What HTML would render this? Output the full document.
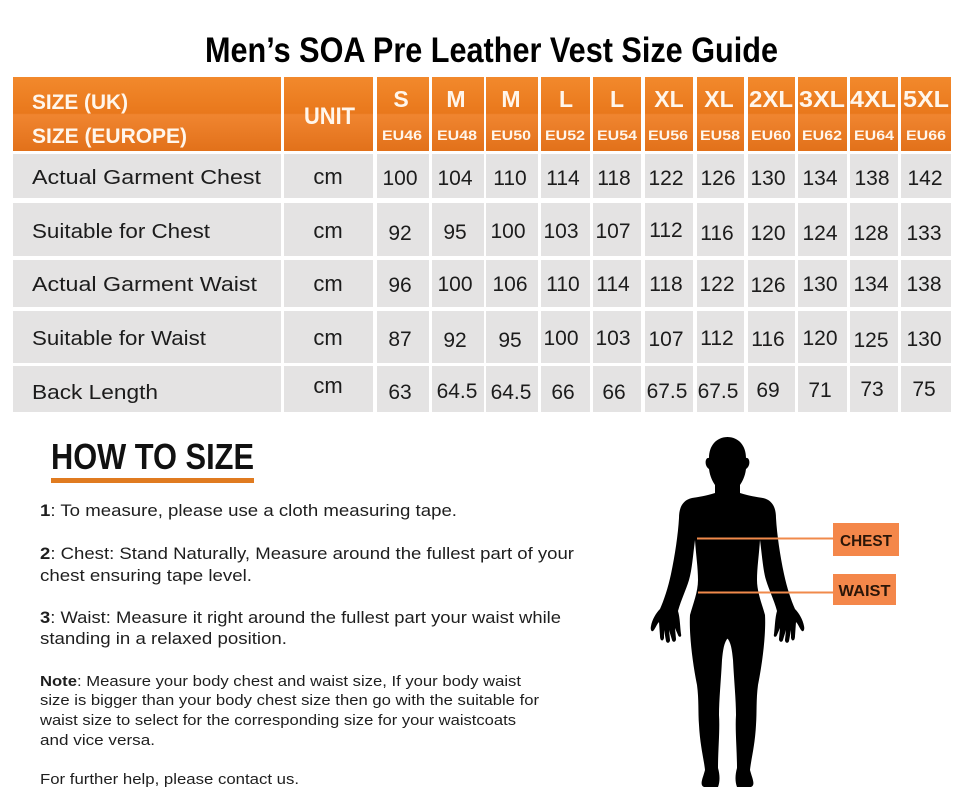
<!DOCTYPE html>
<html><head><meta charset="utf-8"><style>
html,body{margin:0;padding:0;background:#fff;}
svg{display:block;}
text{font-family:"Liberation Sans",sans-serif;}
</style></head><body>
<svg width="960" height="807" viewBox="0 0 960 807" xmlns="http://www.w3.org/2000/svg">
<defs>
<linearGradient id="hg" gradientUnits="userSpaceOnUse" x1="0" y1="77" x2="0" y2="151">
<stop offset="0" stop-color="#f2892c"/>
<stop offset="0.49" stop-color="#e9781c"/>
<stop offset="0.51" stop-color="#f08530"/>
<stop offset="1" stop-color="#e2711a"/>
</linearGradient>
</defs>
<rect width="960" height="807" fill="#fff"/>
<text x="205" y="62" font-size="35" font-weight="bold" fill="#000" textLength="573" lengthAdjust="spacingAndGlyphs">Men’s SOA Pre Leather Vest Size Guide</text>

<g fill="url(#hg)">
<rect x="13" y="77" width="268" height="74"/>
<rect x="284" y="77" width="89" height="74"/>
<rect x="377" y="77" width="52" height="74"/>
<rect x="432" y="77" width="52" height="74"/>
<rect x="486" y="77" width="52" height="74"/>
<rect x="541" y="77" width="49" height="74"/>
<rect x="593" y="77" width="48" height="74"/>
<rect x="645" y="77" width="48" height="74"/>
<rect x="697" y="77" width="47" height="74"/>
<rect x="748" y="77" width="47" height="74"/>
<rect x="798" y="77" width="49" height="74"/>
<rect x="850" y="77" width="48" height="74"/>
<rect x="901" y="77" width="50" height="74"/>
</g>
<g fill="#fff6ec" font-weight="bold">
<text x="32" y="109" font-size="21" textLength="96" lengthAdjust="spacingAndGlyphs">SIZE (UK)</text>
<text x="32" y="143" font-size="21" textLength="155" lengthAdjust="spacingAndGlyphs">SIZE (EUROPE)</text>
<text x="304" y="124" font-size="24" textLength="51" lengthAdjust="spacingAndGlyphs">UNIT</text>
<g font-size="23" text-anchor="middle">
<text x="401" y="107">S</text>
<text x="456" y="107">M</text>
<text x="511" y="107">M</text>
<text x="566" y="107">L</text>
<text x="617" y="107">L</text>
<text x="669" y="107">XL</text>
<text x="719" y="107">XL</text>
<text x="771" y="107" textLength="44" lengthAdjust="spacingAndGlyphs">2XL</text>
<text x="822" y="107" textLength="46" lengthAdjust="spacingAndGlyphs">3XL</text>
<text x="873" y="107" textLength="46" lengthAdjust="spacingAndGlyphs">4XL</text>
<text x="926" y="107" textLength="46" lengthAdjust="spacingAndGlyphs">5XL</text>
</g>
<g font-size="14" text-anchor="middle">
<text x="402" y="140" textLength="40" lengthAdjust="spacingAndGlyphs">EU46</text>
<text x="457" y="140" textLength="40" lengthAdjust="spacingAndGlyphs">EU48</text>
<text x="511" y="140" textLength="40" lengthAdjust="spacingAndGlyphs">EU50</text>
<text x="565" y="140" textLength="40" lengthAdjust="spacingAndGlyphs">EU52</text>
<text x="617" y="140" textLength="40" lengthAdjust="spacingAndGlyphs">EU54</text>
<text x="668" y="140" textLength="40" lengthAdjust="spacingAndGlyphs">EU56</text>
<text x="720" y="140" textLength="40" lengthAdjust="spacingAndGlyphs">EU58</text>
<text x="771" y="140" textLength="40" lengthAdjust="spacingAndGlyphs">EU60</text>
<text x="822" y="140" textLength="40" lengthAdjust="spacingAndGlyphs">EU62</text>
<text x="874" y="140" textLength="40" lengthAdjust="spacingAndGlyphs">EU64</text>
<text x="926" y="140" textLength="40" lengthAdjust="spacingAndGlyphs">EU66</text>
</g>
</g>

<!-- body cells -->
<g fill="#e4e3e3">
<rect x="13" y="154" width="268" height="44"/><rect x="284" y="154" width="89" height="44"/>
<rect x="377" y="154" width="52" height="44"/><rect x="432" y="154" width="52" height="44"/><rect x="486" y="154" width="52" height="44"/><rect x="541" y="154" width="49" height="44"/><rect x="593" y="154" width="48" height="44"/><rect x="645" y="154" width="48" height="44"/><rect x="697" y="154" width="47" height="44"/><rect x="748" y="154" width="47" height="44"/><rect x="798" y="154" width="49" height="44"/><rect x="850" y="154" width="48" height="44"/><rect x="901" y="154" width="50" height="44"/>
<rect x="13" y="203" width="268" height="53"/><rect x="284" y="203" width="89" height="53"/>
<rect x="377" y="203" width="52" height="53"/><rect x="432" y="203" width="52" height="53"/><rect x="486" y="203" width="52" height="53"/><rect x="541" y="203" width="49" height="53"/><rect x="593" y="203" width="48" height="53"/><rect x="645" y="203" width="48" height="53"/><rect x="697" y="203" width="47" height="53"/><rect x="748" y="203" width="47" height="53"/><rect x="798" y="203" width="49" height="53"/><rect x="850" y="203" width="48" height="53"/><rect x="901" y="203" width="50" height="53"/>
<rect x="13" y="260" width="268" height="47"/><rect x="284" y="260" width="89" height="47"/>
<rect x="377" y="260" width="52" height="47"/><rect x="432" y="260" width="52" height="47"/><rect x="486" y="260" width="52" height="47"/><rect x="541" y="260" width="49" height="47"/><rect x="593" y="260" width="48" height="47"/><rect x="645" y="260" width="48" height="47"/><rect x="697" y="260" width="47" height="47"/><rect x="748" y="260" width="47" height="47"/><rect x="798" y="260" width="49" height="47"/><rect x="850" y="260" width="48" height="47"/><rect x="901" y="260" width="50" height="47"/>
<rect x="13" y="311" width="268" height="52"/><rect x="284" y="311" width="89" height="52"/>
<rect x="377" y="311" width="52" height="52"/><rect x="432" y="311" width="52" height="52"/><rect x="486" y="311" width="52" height="52"/><rect x="541" y="311" width="49" height="52"/><rect x="593" y="311" width="48" height="52"/><rect x="645" y="311" width="48" height="52"/><rect x="697" y="311" width="47" height="52"/><rect x="748" y="311" width="47" height="52"/><rect x="798" y="311" width="49" height="52"/><rect x="850" y="311" width="48" height="52"/><rect x="901" y="311" width="50" height="52"/>
<rect x="13" y="366" width="268" height="46"/><rect x="284" y="366" width="89" height="46"/>
<rect x="377" y="366" width="52" height="46"/><rect x="432" y="366" width="52" height="46"/><rect x="486" y="366" width="52" height="46"/><rect x="541" y="366" width="49" height="46"/><rect x="593" y="366" width="48" height="46"/><rect x="645" y="366" width="48" height="46"/><rect x="697" y="366" width="47" height="46"/><rect x="748" y="366" width="47" height="46"/><rect x="798" y="366" width="49" height="46"/><rect x="850" y="366" width="48" height="46"/><rect x="901" y="366" width="50" height="46"/>
</g>

<g fill="#1c1c1c" font-size="20">
<text x="32" y="184" textLength="229" lengthAdjust="spacingAndGlyphs">Actual Garment Chest</text>
<text x="32" y="238" textLength="178" lengthAdjust="spacingAndGlyphs">Suitable for Chest</text>
<text x="32" y="291" textLength="225" lengthAdjust="spacingAndGlyphs">Actual Garment Waist</text>
<text x="32" y="345" textLength="174" lengthAdjust="spacingAndGlyphs">Suitable for Waist</text>
<text x="32" y="399" textLength="126" lengthAdjust="spacingAndGlyphs">Back Length</text>
<g text-anchor="middle" font-size="22">
<text x="328" y="184">cm</text>
<text x="328" y="238">cm</text>
<text x="328" y="291">cm</text>
<text x="328" y="345">cm</text>
<text x="328" y="393">cm</text>
</g>
<g text-anchor="middle" font-size="21">
<text x="400" y="185">100</text><text x="455" y="185">104</text><text x="510" y="185">110</text><text x="563" y="185">114</text><text x="614" y="185">118</text><text x="666" y="185">122</text><text x="718" y="185">126</text><text x="768" y="185">130</text><text x="820" y="185">134</text><text x="872" y="185">138</text><text x="925" y="185">142</text>

<text x="400" y="240">92</text><text x="455" y="239">95</text><text x="508" y="238">100</text><text x="561" y="238">103</text><text x="613" y="238">107</text><text x="666" y="237">112</text><text x="717" y="240">116</text><text x="768" y="240">120</text><text x="820" y="240">124</text><text x="871" y="240">128</text><text x="924" y="240">133</text>

<text x="400" y="292">96</text><text x="455" y="291">100</text><text x="510" y="291">106</text><text x="563" y="291">110</text><text x="613" y="291">114</text><text x="666" y="291">118</text><text x="717" y="291">122</text><text x="768" y="292">126</text><text x="820" y="291">130</text><text x="871" y="291">134</text><text x="924" y="291">138</text>

<text x="400" y="346">87</text><text x="455" y="347">92</text><text x="510" y="347">95</text><text x="561" y="345">100</text><text x="613" y="345">103</text><text x="666" y="346">107</text><text x="717" y="345">112</text><text x="768" y="346">116</text><text x="820" y="345">120</text><text x="871" y="347">125</text><text x="924" y="346">130</text>

<text x="400" y="399">63</text><text x="457" y="398">64.5</text><text x="511" y="399">64.5</text><text x="563" y="399">66</text><text x="614" y="399">66</text><text x="667" y="398">67.5</text><text x="718" y="398">67.5</text><text x="768" y="397">69</text><text x="820" y="397">71</text><text x="872" y="396">73</text><text x="924" y="396">75</text>
</g>
</g>

<!-- HOW TO SIZE -->
<text x="51" y="469" font-size="36" font-weight="bold" fill="#111" textLength="203" lengthAdjust="spacingAndGlyphs">HOW TO SIZE</text>
<rect x="51" y="478" width="203" height="5" fill="#e07b20"/>

<g fill="#1e1e1e" font-size="16.5">
<text x="40" y="516" textLength="417" lengthAdjust="spacingAndGlyphs"><tspan font-weight="bold">1</tspan>: To measure, please use a cloth measuring tape.</text>
<text x="40" y="559" textLength="534" lengthAdjust="spacingAndGlyphs"><tspan font-weight="bold">2</tspan>: Chest: Stand Naturally, Measure around the fullest part of your</text>
<text x="40" y="581" textLength="212" lengthAdjust="spacingAndGlyphs">chest ensuring tape level.</text>
<text x="40" y="623" textLength="521" lengthAdjust="spacingAndGlyphs"><tspan font-weight="bold">3</tspan>: Waist: Measure it right around the fullest part your waist while</text>
<text x="40" y="644" textLength="247" lengthAdjust="spacingAndGlyphs">standing in a relaxed position.</text>
</g>
<g fill="#1e1e1e" font-size="15">
<text x="40" y="686" textLength="481" lengthAdjust="spacingAndGlyphs"><tspan font-weight="bold">Note</tspan>: Measure your body chest and waist size, If your body waist</text>
<text x="40" y="705" textLength="499" lengthAdjust="spacingAndGlyphs">size is bigger than your body chest size then go with the suitable for</text>
<text x="40" y="725" textLength="476" lengthAdjust="spacingAndGlyphs">waist size to select for the corresponding size for your waistcoats</text>
<text x="40" y="745" textLength="115" lengthAdjust="spacingAndGlyphs">and vice versa.</text>
<text x="40" y="784" textLength="259" lengthAdjust="spacingAndGlyphs">For further help, please contact us.</text>
</g>

<!-- silhouette -->
<g fill="#000">
<path d="M728 437 C716 437 709 446 709 458 C705 457 704 466 709 469 C710 477 713 482 715 485 L715 493 C706 496 698 497 692 498 C683 500 679 507 679 518 C678 535 675 555 671 574 C668 588 664 600 660 609 C656 613 652 620 651 626 C650 630 652 633 654 630 C656 627 657 624 659 622 L660 636 C660 641 663 642 664 638 L664 630 L666 641 C667 644 670 643 670 640 L669 630 L672 640 C673 643 676 642 676 639 L675 628 L678 635 C679 638 682 637 681 634 C680 626 680 618 678 611 C681 600 686 590 689 580 C692 570 693 555 695 540 C696 555 698 568 698 580 C698 592 693 604 690 615 C689 632 692 660 697 685 C699 700 698 712 699 725 C700 745 704 760 705 770 C703 778 699 785 704 787 L718 787 C720 782 720 775 718 768 C718 750 720 730 719 715 C719 700 721 680 722 660 C723 650 724 642 728 638 Z"/>
<path transform="matrix(-1 0 0 1 1455 0)" d="M728 437 C716 437 709 446 709 458 C705 457 704 466 709 469 C710 477 713 482 715 485 L715 493 C706 496 698 497 692 498 C683 500 679 507 679 518 C678 535 675 555 671 574 C668 588 664 600 660 609 C656 613 652 620 651 626 C650 630 652 633 654 630 C656 627 657 624 659 622 L660 636 C660 641 663 642 664 638 L664 630 L666 641 C667 644 670 643 670 640 L669 630 L672 640 C673 643 676 642 676 639 L675 628 L678 635 C679 638 682 637 681 634 C680 626 680 618 678 611 C681 600 686 590 689 580 C692 570 693 555 695 540 C696 555 698 568 698 580 C698 592 693 604 690 615 C689 632 692 660 697 685 C699 700 698 712 699 725 C700 745 704 760 705 770 C703 778 699 785 704 787 L718 787 C720 782 720 775 718 768 C718 750 720 730 719 715 C719 700 721 680 722 660 C723 650 724 642 728 638 Z"/>
</g>
<line x1="697" y1="538.5" x2="834" y2="538.5" stroke="#f08a4b" stroke-width="2"/>
<line x1="698" y1="592.5" x2="834" y2="592.5" stroke="#f08a4b" stroke-width="2"/>
<rect x="833" y="523" width="66" height="33" fill="#f4874a"/>
<rect x="833" y="574" width="63" height="31" fill="#f4874a"/>
<text x="866" y="546" font-size="16" font-weight="bold" fill="#2a1608" text-anchor="middle" textLength="52" lengthAdjust="spacingAndGlyphs">CHEST</text>
<text x="864.5" y="596" font-size="16" font-weight="bold" fill="#2a1608" text-anchor="middle" textLength="52" lengthAdjust="spacingAndGlyphs">WAIST</text>
</svg>
</body></html>
